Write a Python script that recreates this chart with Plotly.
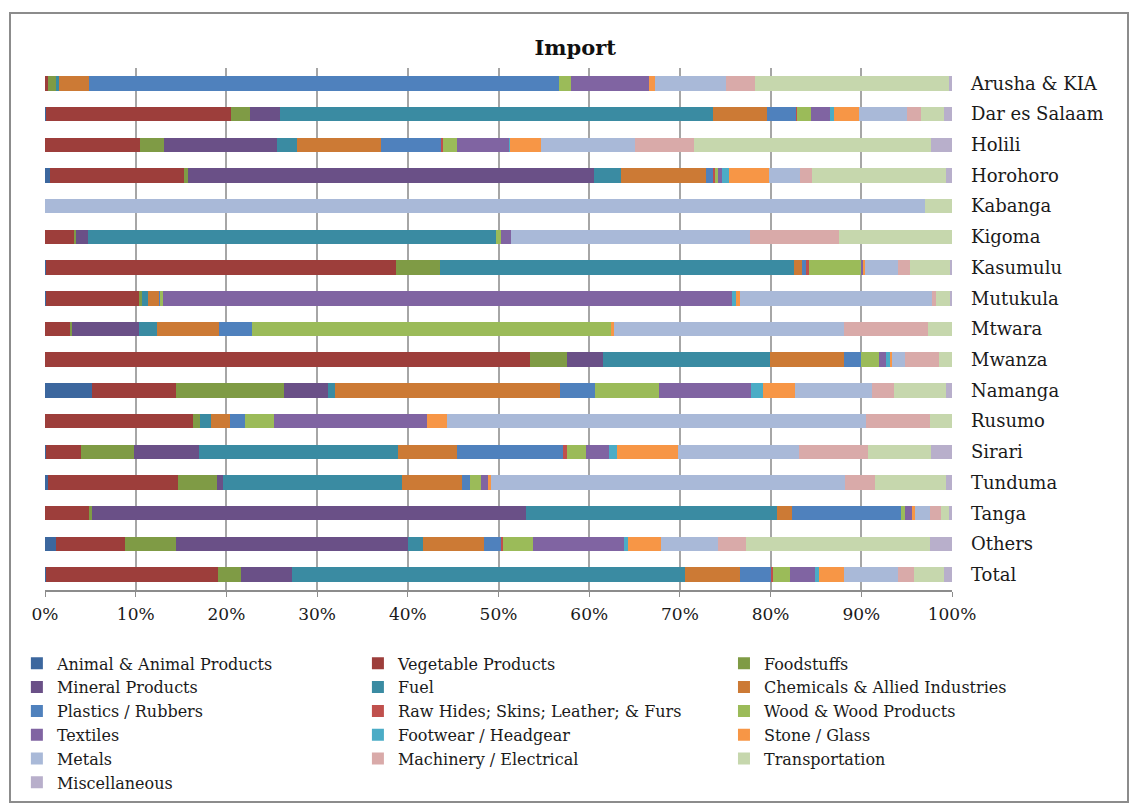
import plotly.graph_objects as go

locations = ["Arusha & KIA", "Dar es Salaam", "Holili", "Horohoro", "Kabanga", "Kigoma",
             "Kasumulu", "Mutukula", "Mtwara", "Mwanza", "Namanga", "Rusumo", "Sirari",
             "Tunduma", "Tanga", "Others", "Total"]

animal = [0, 0.1, 0, 0.5, 0, 0, 0.15, 0.15, 0, 0, 5.15, 0, 0.15, 0.35, 0, 1.2, 0.15]
vegetable = [0.3, 20.4, 10.5, 14.8, 0, 3.3, 38.55, 10.2, 2.85, 53.45, 9.3, 16.3, 3.85, 14.35, 4.95, 7.6, 18.85]
foodstuffs = [1.0, 2.1, 2.6, 0.5, 0, 0.1, 4.85, 0.3, 0.15, 4.1, 11.85, 0.8, 5.8, 4.25, 0.2, 5.65, 2.55]
mineral = [0, 3.3, 12.5, 44.7, 0, 1.3, 0, 0, 7.4, 4.0, 4.9, 0, 7.2, 0.6, 47.85, 25.6, 5.65]
fuel = [0.2, 47.8, 2.3, 2.95, 0, 45.05, 39.0, 0.75, 1.95, 18.35, 0.75, 1.2, 21.9, 19.75, 27.7, 1.65, 43.25]
chemicals = [3.35, 5.9, 9.2, 9.35, 0, 0, 0.95, 1.2, 6.8, 8.2, 24.85, 2.1, 6.45, 6.65, 1.7, 6.65, 6.05]
plastics = [51.8, 3.2, 6.7, 0.8, 0, 0, 0.35, 0.15, 3.7, 1.85, 3.85, 1.7, 11.75, 0.85, 12.0, 2.0, 3.55]
rawhides = [0, 0.1, 0.15, 0.15, 0, 0, 0.35, 0, 0, 0, 0, 0, 0.35, 0, 0, 0.15, 0.15]
wood = [1.4, 1.5, 1.55, 0.4, 0, 0.55, 5.8, 0.2, 39.5, 2.0, 7.05, 3.1, 2.1, 1.25, 0.45, 3.25, 1.85]
textiles = [8.6, 2.2, 5.8, 0.45, 0, 1.05, 0.15, 62.75, 0, 0.75, 10.15, 16.95, 2.55, 0.7, 0.7, 10.05, 2.8]
footwear = [0, 0.4, 0.15, 0.75, 0, 0, 0, 0.45, 0, 0.5, 1.3, 0, 0.9, 0, 0, 0.45, 0.45]
stone = [0.6, 2.7, 3.4, 4.35, 0, 0, 0.3, 0.45, 0.35, 0.15, 3.55, 2.15, 6.75, 0.35, 0.4, 3.65, 2.7]
metals = [7.9, 5.3, 10.4, 3.5, 97.0, 26.4, 3.65, 21.1, 25.4, 1.45, 8.4, 46.2, 13.3, 39.05, 1.6, 6.3, 5.9]
machinery = [3.2, 1.6, 6.5, 1.3, 0, 9.8, 1.3, 0.5, 9.2, 3.8, 2.45, 7.05, 7.6, 3.25, 1.25, 3.05, 1.85]
transport = [21.4, 2.5, 26.2, 14.7, 3.0, 12.5, 4.4, 1.55, 2.7, 1.4, 5.7, 2.45, 6.95, 7.8, 0.9, 20.35, 3.25]
misc = [0.3, 0.9, 2.3, 0.7, 0, 0, 0.2, 0.2, 0, 0, 0.7, 0, 2.3, 0.7, 0.3, 2.4, 0.9]

category_names = ["Animal & Animal Products", "Vegetable Products", "Foodstuffs",
                  "Mineral Products", "Fuel", "Chemicals & Allied Industries",
                  "Plastics / Rubbers", "Raw Hides; Skins; Leather; & Furs", "Wood & Wood Products",
                  "Textiles", "Footwear / Headgear", "Stone / Glass",
                  "Metals", "Machinery / Electrical", "Transportation", "Miscellaneous"]
series = [animal, vegetable, foodstuffs, mineral, fuel, chemicals, plastics, rawhides,
          wood, textiles, footwear, stone, metals, machinery, transport, misc]
colors = ["#3C679E", "#9D3E3B", "#7F9B45", "#6A5087", "#3A8BA2", "#CC7A35",
          "#4F81BD", "#C0504D", "#9BBB59", "#8064A2", "#4BACC6", "#F79646",
          "#A9B9D8", "#D9AAA9", "#C6D7AD", "#B8AFCB"]

FONT = "DejaVu Serif"
fig = go.Figure()
for i, (name, vals, col) in enumerate(zip(category_names, series, colors)):
    fig.add_trace(go.Bar(
        y=locations, x=vals, name=name, orientation="h",
        marker=dict(color=col, line=dict(width=0)),
        legend=["legend", "legend2", "legend3"][i % 3],
    ))

leg_common = dict(orientation="v", yanchor="top", xanchor="left", y=-0.108,
                  font=dict(family=FONT, size=16, color="#1a1a1a"),
                  tracegroupgap=0, bgcolor="rgba(0,0,0,0)", traceorder="normal")

fig.update_layout(
    width=1130, height=805,
    margin=dict(l=45, r=178, t=68, b=215, autoexpand=False),
    paper_bgcolor="white", plot_bgcolor="white",
    barmode="stack", barnorm="percent", bargap=0.53,
    title=dict(text="<b>Import</b>", x=0.509, xref="container", xanchor="center",
               y=1 - 48 / 805, yref="container", yanchor="middle",
               font=dict(family=FONT, size=21, color="#111")),
    xaxis=dict(range=[0, 100], tickvals=list(range(0, 101, 10)),
               ticktext=[f"{v}%" for v in range(0, 101, 10)],
               showgrid=True, gridcolor="#A6A6A6", gridwidth=1.5,
               showline=True, linecolor="#8C8C8C", linewidth=1.5,
               ticks="outside", ticklen=5, tickcolor="#8C8C8C",
               ticklabelstandoff=3,
               tickfont=dict(family=FONT, size=17, color="#1a1a1a"), zeroline=False),
    yaxis=dict(type="category", categoryorder="array", categoryarray=locations,
               autorange="reversed", side="right", showgrid=False, showline=False,
               ticks="", ticklabelstandoff=18,
               tickfont=dict(family=FONT, size=18, color="#1a1a1a")),
    yaxis2=dict(overlaying="y", side="left", anchor="x", range=[16.5, -0.5],
                tickvals=[k - 0.5 for k in range(18)], showticklabels=False,
                ticks="outside", ticklen=5, tickcolor="#8C8C8C",
                showline=True, linecolor="#8C8C8C", linewidth=1.5,
                showgrid=False, zeroline=False),
    legend=dict(x=-0.031, **leg_common),
    legend2=dict(x=0.345, **leg_common),
    legend3=dict(x=0.7486, **leg_common),
    showlegend=True,
    shapes=[dict(type="rect", xref="paper", yref="paper",
                 x0=(10 - 45) / 907, x1=(1128 - 45) / 907,
                 y0=(590 - 802) / 522, y1=(590 - 13) / 522,
                 line=dict(color="#8C8C8C", width=2), fillcolor="rgba(0,0,0,0)", layer="below")],
)

fig.write_html("out.html")
